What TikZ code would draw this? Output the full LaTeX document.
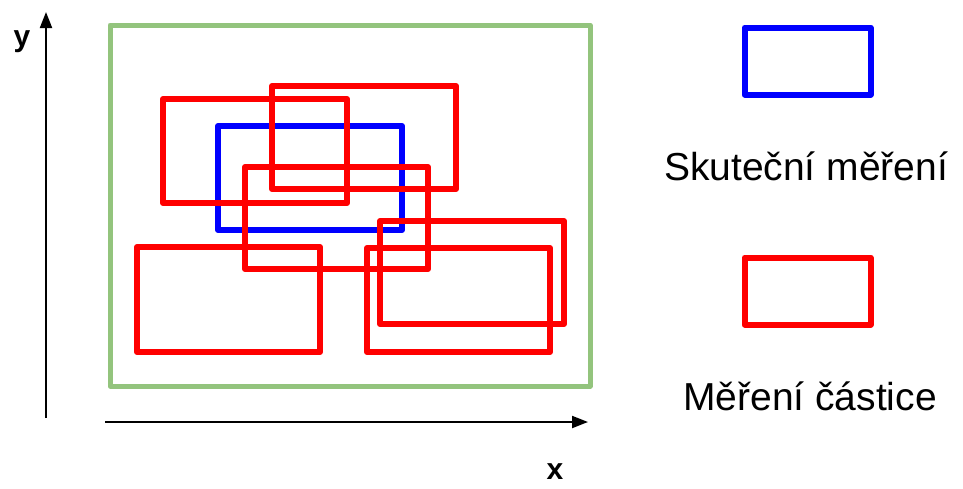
\documentclass[tikz,border=0pt]{standalone}
\usepackage{fontspec}
\setmainfont{Liberation Sans}
\usepackage{tikz}
\usetikzlibrary{arrows.meta, positioning}

\definecolor{areagreen}{RGB}{147,196,125}

\begin{document}
\begin{tikzpicture}[
  x=1pt, y=-1pt,
  axis/.style={line width=2pt, -{Triangle[length=16pt, width=12pt]}},
  area/.style={draw=areagreen, line width=5pt, line join=round},
  real/.style={draw=blue, line width=6pt, line join=round},
  part/.style={draw=red, line width=6pt, line join=round},
  keybox/.style={rectangle, minimum width=126pt, minimum height=67pt, inner sep=0pt},
  keytxt/.style={anchor=base, font=\fontsize{39}{44}\selectfont},
  axlbl/.style={font=\fontsize{30}{34}\selectfont\bfseries},
]
\useasboundingbox (0,0) rectangle (963,488);

%% ---- axes ----
\coordinate (yfoot) at (46,418);
\coordinate (ytip)  at (46,12);
\coordinate (xfoot) at (105,422);
\coordinate (xtip)  at (588,422);
\draw[axis] (yfoot) -- (ytip);
\draw[axis] (xfoot) -- (xtip);
\node[axlbl] (ylbl) at (22,42) {y};
\node[axlbl] (xlbl) at (555,472) {x};

%% ---- measured area ----
\draw[area] (110,25) rectangle (590,386);

%% real measurement
\draw[real] (218,126) rectangle (402,230);

%% particle measurements
\draw[part] (163,99)  rectangle (347,203);
\draw[part] (272,86)  rectangle (456,189);
\draw[part] (245,167) rectangle (428,269);
\draw[part] (137,247) rectangle (320,352);
\draw[part] (380,221) rectangle (564,324);
\draw[part] (367,248) rectangle (550,352);

%% ---- legend ----
\node[keybox, real] (realkey) at (807.5,61) {};
\node[keytxt] (reallbl) at (806,180) {Skuteční měření};
\node[keybox, part] (partkey) at (807.5,291) {};
\node[keytxt] (partlbl) at (810,410) {Měření částice};

\end{tikzpicture}
\end{document}
